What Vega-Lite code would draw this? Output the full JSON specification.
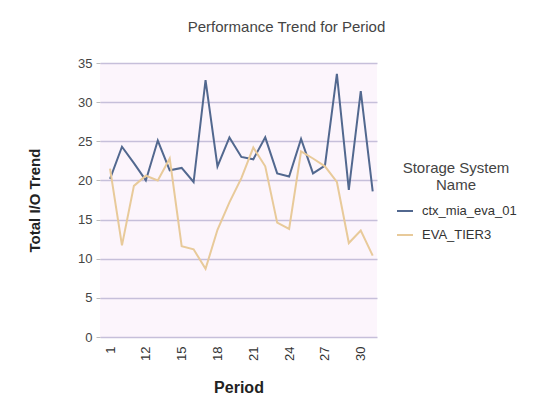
{
  "$schema": "https://vega.github.io/schema/vega-lite/v6.json",
  "autosize": "none",
  "width": 277,
  "height": 274,
  "padding": {"left": 100, "top": 63, "right": 178, "bottom": 68},
  "background": "white",
  "title": {
    "text": "Performance Trend for Period",
    "fontSize": 15,
    "fontWeight": "normal",
    "font": "Liberation Sans",
    "color": "#444444",
    "anchor": "middle",
    "dx": 48,
    "offset": 22
  },
  "data": {
    "values": [
      {"period": "1", "system": "ctx_mia_eva_01", "value": 20.2},
      {"period": "10", "system": "ctx_mia_eva_01", "value": 24.3},
      {"period": "11", "system": "ctx_mia_eva_01", "value": 22.2},
      {"period": "12", "system": "ctx_mia_eva_01", "value": 20.0},
      {"period": "13", "system": "ctx_mia_eva_01", "value": 25.1},
      {"period": "14", "system": "ctx_mia_eva_01", "value": 21.3},
      {"period": "15", "system": "ctx_mia_eva_01", "value": 21.6},
      {"period": "16", "system": "ctx_mia_eva_01", "value": 19.8},
      {"period": "17", "system": "ctx_mia_eva_01", "value": 32.8},
      {"period": "18", "system": "ctx_mia_eva_01", "value": 21.8},
      {"period": "19", "system": "ctx_mia_eva_01", "value": 25.5},
      {"period": "20", "system": "ctx_mia_eva_01", "value": 23.0},
      {"period": "21", "system": "ctx_mia_eva_01", "value": 22.7},
      {"period": "22", "system": "ctx_mia_eva_01", "value": 25.5},
      {"period": "23", "system": "ctx_mia_eva_01", "value": 20.9},
      {"period": "24", "system": "ctx_mia_eva_01", "value": 20.5},
      {"period": "25", "system": "ctx_mia_eva_01", "value": 25.3},
      {"period": "26", "system": "ctx_mia_eva_01", "value": 20.9},
      {"period": "27", "system": "ctx_mia_eva_01", "value": 21.9},
      {"period": "28", "system": "ctx_mia_eva_01", "value": 33.6},
      {"period": "29", "system": "ctx_mia_eva_01", "value": 18.8},
      {"period": "30", "system": "ctx_mia_eva_01", "value": 31.4},
      {"period": "31", "system": "ctx_mia_eva_01", "value": 18.6},
      {"period": "1", "system": "EVA_TIER3", "value": 21.5},
      {"period": "10", "system": "EVA_TIER3", "value": 11.7},
      {"period": "11", "system": "EVA_TIER3", "value": 19.3},
      {"period": "12", "system": "EVA_TIER3", "value": 20.6},
      {"period": "13", "system": "EVA_TIER3", "value": 20.0},
      {"period": "14", "system": "EVA_TIER3", "value": 22.8},
      {"period": "15", "system": "EVA_TIER3", "value": 11.6},
      {"period": "16", "system": "EVA_TIER3", "value": 11.2},
      {"period": "17", "system": "EVA_TIER3", "value": 8.7},
      {"period": "18", "system": "EVA_TIER3", "value": 13.7},
      {"period": "19", "system": "EVA_TIER3", "value": 17.2},
      {"period": "20", "system": "EVA_TIER3", "value": 20.3},
      {"period": "21", "system": "EVA_TIER3", "value": 24.2},
      {"period": "22", "system": "EVA_TIER3", "value": 21.8},
      {"period": "23", "system": "EVA_TIER3", "value": 14.6},
      {"period": "24", "system": "EVA_TIER3", "value": 13.8},
      {"period": "25", "system": "EVA_TIER3", "value": 23.7},
      {"period": "26", "system": "EVA_TIER3", "value": 22.8},
      {"period": "27", "system": "EVA_TIER3", "value": 21.8},
      {"period": "28", "system": "EVA_TIER3", "value": 19.8},
      {"period": "29", "system": "EVA_TIER3", "value": 12.0},
      {"period": "30", "system": "EVA_TIER3", "value": 13.6},
      {"period": "31", "system": "EVA_TIER3", "value": 10.4}
    ]
  },
  "mark": {"type": "line", "strokeWidth": 2},
  "encoding": {
    "x": {
      "field": "period",
      "type": "ordinal",
      "sort": null,
      "scale": {"type": "point", "padding": 0.6, "align": 0.7},
      "axis": {
        "title": "Period",
        "values": ["1", "12", "15", "18", "21", "24", "27", "30"],
        "labelAngle": 270,
        "labelFontSize": 13,
        "labelColor": "#333333",
        "labelPadding": 9,
        "ticks": false,
        "domain": false,
        "grid": false,
        "titleFontSize": 16,
        "titleFontWeight": "bold",
        "titleColor": "#222222",
        "titlePadding": 19
      }
    },
    "y": {
      "field": "value",
      "type": "quantitative",
      "scale": {"domain": [0, 35], "nice": false},
      "axis": {
        "title": "Total I/O Trend",
        "values": [0, 5, 10, 15, 20, 25, 30, 35],
        "labelFontSize": 13,
        "labelColor": "#444444",
        "labelPadding": 4,
        "tickSize": 4,
        "tickColor": "#bbbbbb",
        "domain": false,
        "grid": true,
        "gridColor": "#c6bfda",
        "gridWidth": 1.5,
        "titleFontSize": 15,
        "titleFontWeight": "bold",
        "titleColor": "#222222",
        "titlePadding": 35
      }
    },
    "color": {
      "field": "system",
      "type": "nominal",
      "scale": {"domain": ["ctx_mia_eva_01", "EVA_TIER3"], "range": ["#52688f", "#e8ca9a"]},
      "legend": {
        "title": ["Storage System", "Name"],
        "orient": "none",
        "legendX": 296,
        "legendY": 98,
        "titleFontSize": 15,
        "titleFontWeight": "normal",
        "titleColor": "#444444",
        "titleAlign": "center",
        "titleAnchor": "middle",
        "titlePadding": 9,
        "titleLineHeight": 17,
        "labelFontSize": 13,
        "labelColor": "#333333",
        "labelOffset": 8,
        "symbolType": "stroke",
        "symbolSize": 256,
        "symbolStrokeWidth": 2,
        "rowPadding": 8
      }
    }
  },
  "config": {
    "font": "Liberation Sans",
    "view": {"fill": "#fcf5fc", "stroke": null}
  }
}
